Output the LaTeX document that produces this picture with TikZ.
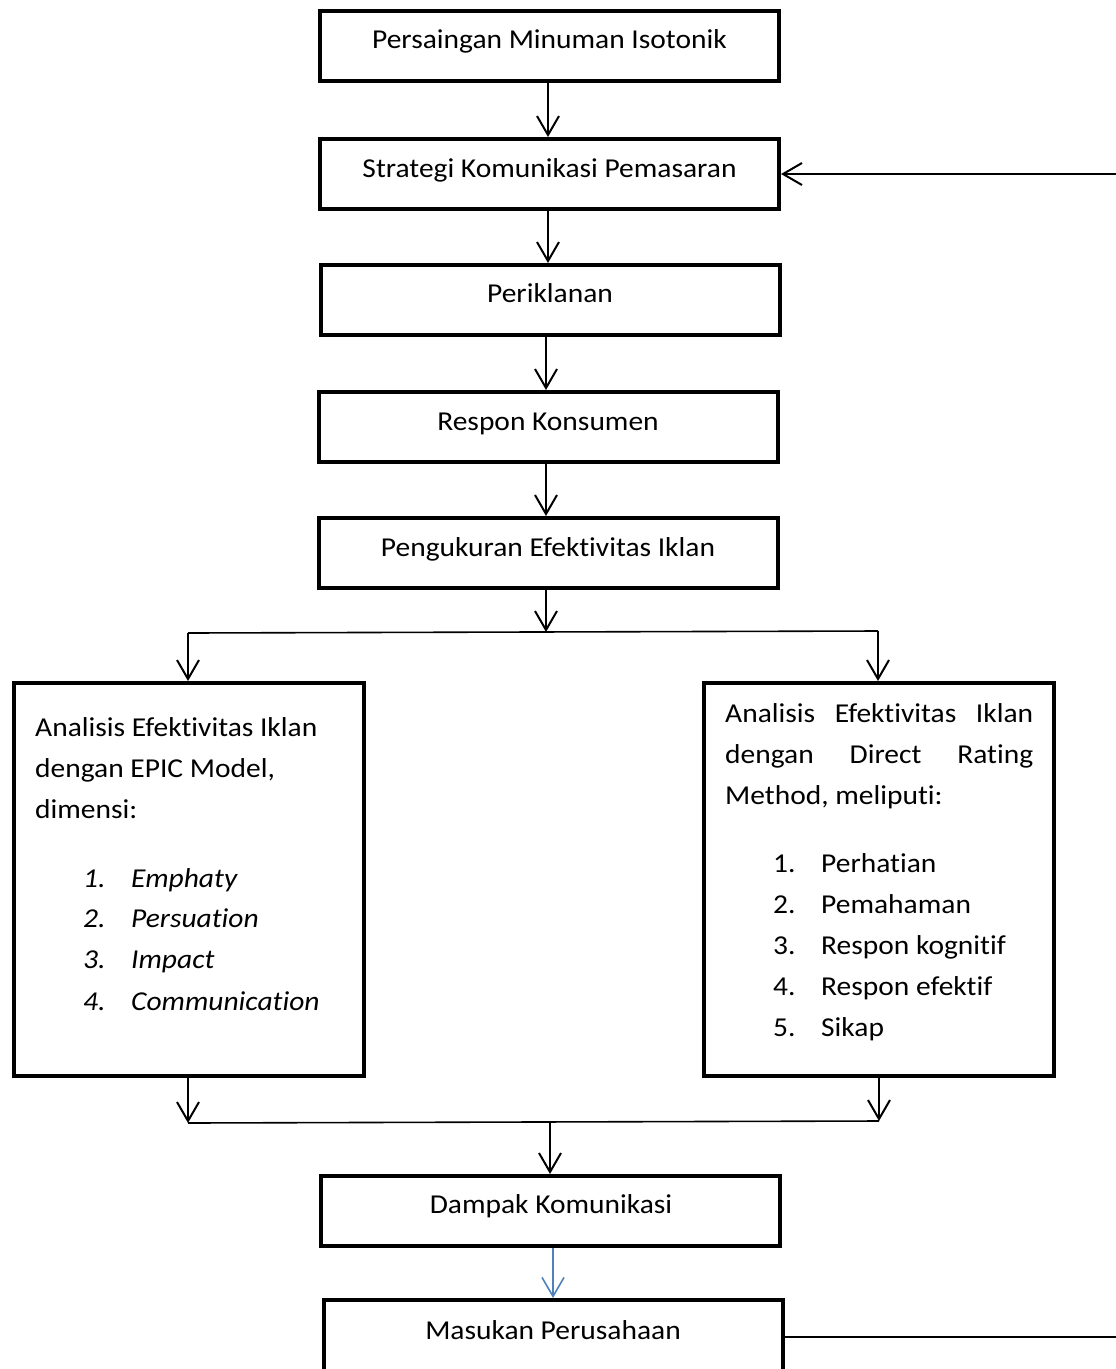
\documentclass[tikz,border=0pt]{standalone}
\usepackage{fontspec}
\setmainfont{Carlito}[Ligatures=NoCommon,FakeStretch=1.08]
\usetikzlibrary{arrows.meta}
\begin{document}
\begin{tikzpicture}[x=1pt,y=-1pt,
  box/.style={draw,line width=4pt,minimum width=459pt,minimum height=70pt,inner sep=0pt},
  bigbox/.style={draw,line width=4pt,minimum width=350pt,minimum height=393pt,inner sep=0pt},
  txt/.style={inner sep=0pt,font=\fontsize{27.3}{33}\selectfont},
  arr/.style={line width=2pt,-{Straight Barb[length=19pt,width=22pt,line width=2pt]}},
  ln/.style={line width=1.6pt}]
\useasboundingbox (0,0) rectangle (1116,1369);
\clip (0,0) rectangle (1116,1369);
% boxes
\node[box] (b1) at (549.5,46) {};
\node[box] (b2) at (549.5,174) {};
\node[box] (b3) at (550,300) {};
\node[box] (b4) at (548,427) {};
\node[box] (b5) at (548,553) {};
\node[bigbox] (L) at (189,879.5) {};
\node[bigbox] (R) at (879,879.5) {};
\node[box] (d) at (550.5,1211) {};
\node[box,minimum height=86pt] (m) at (553,1343) {};
% box texts
\node[txt,anchor=base] (t1) at (549.5,48) {Persaingan Minuman Isotonik};
\node[txt,anchor=base] (t2) at (549.5,177) {Strategi Komunikasi Pemasaran};
\node[txt,anchor=base] (t3) at (550,302) {Periklanan};
\node[txt,anchor=base] (t4) at (548,430) {Respon Konsumen};
\node[txt,anchor=base] (t5) at (548,556) {Pengukuran Efektivitas Iklan};
\node[txt,anchor=base] (t6) at (551,1213) {Dampak Komunikasi};
\node[txt,anchor=base] (t7) at (553,1339) {Masukan Perusahaan};
% left box text
\node[txt,anchor=base west] (l1) at (35,736) {Analisis Efektivitas Iklan};
\node[txt,anchor=base west] (l2) at (35,777) {dengan EPIC Model,};
\node[txt,anchor=base west] (l3) at (35,818) {dimensi:};
\node[txt,anchor=base west] (ln1) at (83,887) {\itshape 1.};
\node[txt,anchor=base west] (li1) at (131,887) {\itshape Emphaty};
\node[txt,anchor=base west] (ln2) at (83,927) {\itshape 2.};
\node[txt,anchor=base west] (li2) at (131,927) {\itshape Persuation};
\node[txt,anchor=base west] (ln3) at (83,968) {\itshape 3.};
\node[txt,anchor=base west] (li3) at (131,968) {\itshape Impact};
\node[txt,anchor=base west] (ln4) at (83,1010) {\itshape 4.};
\node[txt,anchor=base west] (li4) at (131,1010) {\itshape Communication};
% right box text
\node[txt,anchor=base west] (r1) at (725,722) {\hbox to 308pt{Analisis\hfill Efektivitas\hfill Iklan}};
\node[txt,anchor=base west] (r2) at (725,763) {\hbox to 308pt{dengan\hfill Direct\hfill Rating}};
\node[txt,anchor=base west] (r3) at (725,804) {Method, meliputi:};
\node[txt,anchor=base west] (rn1) at (773,872) {1.};
\node[txt,anchor=base west] (ri1) at (821,872) {Perhatian};
\node[txt,anchor=base west] (rn2) at (773,913) {2.};
\node[txt,anchor=base west] (ri2) at (821,913) {Pemahaman};
\node[txt,anchor=base west] (rn3) at (773,954) {3.};
\node[txt,anchor=base west] (ri3) at (821,954) {Respon kognitif};
\node[txt,anchor=base west] (rn4) at (773,995) {4.};
\node[txt,anchor=base west] (ri4) at (821,995) {Respon efektif};
\node[txt,anchor=base west] (rn5) at (773,1036) {5.};
\node[txt,anchor=base west] (ri5) at (821,1036) {Sikap};
% coordinates
\coordinate (sM) at (546,632);
\coordinate (sL) at (188,633);
\coordinate (sR) at (878,631);
\coordinate (jL) at (188,1123);
\coordinate (jR) at (879,1121);
\coordinate (jM) at (550,1122);
\coordinate (eTop) at (1116,174);
\coordinate (eBot) at (1116,1337);
% connectors
\draw[arr] (b1.south -| 548,0) -- (b2.north -| 548,0);
\draw[arr] (b2.south -| 548,0) -- (b3.north -| 548,0);
\draw[arr] (b3.south -| 546,0) -- (b4.north -| 546,0);
\draw[arr] (b4.south -| 546,0) -- (b5.north -| 546,0);
\draw[arr] (b5.south -| sM) -- (sM);
\draw[ln] (sL) -- (sR);
\draw[arr] (sL) -- (L.north -| sL);
\draw[arr] (sR) -- (R.north -| sR);
\draw[arr] (L.south -| jL) -- (jL);
\draw[arr] (R.south -| jR) -- (jR);
\draw[ln] (jL) -- (jR);
\draw[arr] (jM) -- (d.north -| jM);
\draw[line width=1.6pt,color={rgb,255:red,79;green,129;blue,189},-{Straight Barb[length=19pt,width=22pt,line width=1.6pt]}] (d.south -| 553,0) -- (m.north -| 553,0);
\draw[ln] (m.east |- eBot) -- (eBot);
\draw[arr] (eTop) -- (b2.east);
\end{tikzpicture}
\end{document}
